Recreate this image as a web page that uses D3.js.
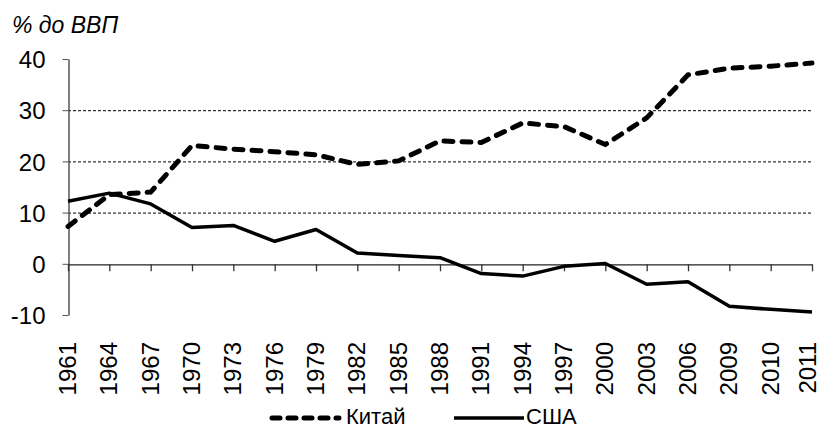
<!DOCTYPE html>
<html>
<head>
<meta charset="utf-8">
<script src="https://cdn.jsdelivr.net/npm/d3@7"></script>
<style>
  body { margin: 0; background: #fff; }
  svg { display: block; font-family: "Liberation Sans", Arial, sans-serif; }
</style>
</head>
<body>
<div id="chart"></div>
<script>
// data
var years = ["1961", "1964", "1967", "1970", "1973", "1976", "1979", "1982", "1985", "1988",
  "1991", "1994", "1997", "2000", "2003", "2006", "2009", "2010", "2011"];
var china = [7.3, 13.5, 14.0, 23.1, 22.4, 21.9, 21.3, 19.4, 20.1, 24.0,
  23.7, 27.5, 26.8, 23.3, 28.5, 36.9, 38.2, 38.6, 39.2];
var usa = [12.2, 13.8, 11.7, 7.1, 7.5, 4.4, 6.7, 2.1, 1.6, 1.2,
  -1.9, -2.4, -0.5, 0.05, -4.0, -3.5, -8.3, -8.9, -9.4];
var yTicks = [-10, 0, 10, 20, 30, 40];
var gridVals = [10, 20, 30];

var width = 822, height = 428;
var margin = { top: 59, right: 10, bottom: 113, left: 68 };

var svg = d3.select("#chart").append("svg")
  .attr("width", width)
  .attr("height", height);

var x = d3.scalePoint().domain(years).range([margin.left, width - margin.right]);
var y = d3.scaleLinear().domain([-10, 40]).range([height - margin.bottom, margin.top]);

// dashed grid lines
svg.append("g").selectAll("line")
  .data(gridVals)
  .join("line")
  .attr("x1", margin.left)
  .attr("x2", width - margin.right)
  .attr("y1", d => y(d) + 0.5)
  .attr("y2", d => y(d) + 0.5)
  .attr("stroke", "#000")
  .attr("stroke-width", 1)
  .attr("stroke-dasharray", "3,2");

// y axis
var yAxis = svg.append("g")
  .attr("transform", "translate(" + (margin.left + 0.5) + ",0)")
  .call(d3.axisLeft(y).tickValues(yTicks).tickSize(6).tickPadding(17)
    .tickSizeOuter(0).tickFormat(d => String(d)));
yAxis.select(".domain").attr("stroke", "#555").attr("stroke-width", 1.5);
yAxis.selectAll(".tick line").attr("stroke", "#555");
yAxis.selectAll("text")
  .attr("font-family", "Liberation Sans, Arial, sans-serif")
  .attr("font-size", 24)
  .attr("fill", "#000")
  .attr("dy", "0.36em");

// x axis along zero
var xAxis = svg.append("g")
  .attr("transform", "translate(0," + (y(0) + 0.5) + ")")
  .call(d3.axisBottom(x).tickSize(7).tickSizeOuter(0).tickFormat(""));
xAxis.select(".domain").attr("stroke", "#222").attr("stroke-width", 1.3);
xAxis.selectAll(".tick line").attr("stroke", "#333").attr("stroke-width", 1.3);

// rotated year labels (last one kept inside the frame)
svg.append("g").selectAll("text")
  .data(years)
  .join("text")
  .attr("transform", d => "translate(" + Math.min(x(d) + 8, width - 6) + "," + 342 + ") rotate(-90)")
  .attr("text-anchor", "end")
  .attr("font-size", 24)
  .attr("fill", "#000")
  .text(d => d);

// axis title
svg.append("text")
  .attr("x", 12)
  .attr("y", 33)
  .attr("font-size", 23)
  .attr("font-style", "italic")
  .attr("fill", "#000")
  .text("% до ВВП");

var line = d3.line()
  .x((d, i) => x(years[i]))
  .y(d => y(d));

svg.append("path")
  .datum(usa)
  .attr("fill", "none")
  .attr("stroke", "#000")
  .attr("stroke-width", 3.5)
  .attr("stroke-linejoin", "round")
  .attr("d", line);

svg.append("path")
  .datum(china)
  .attr("fill", "none")
  .attr("stroke", "#000")
  .attr("stroke-width", 5)
  .attr("stroke-linecap", "round")
  .attr("stroke-dasharray", "9,9")
  .attr("d", line);

// legend
var legend = svg.append("g");
legend.append("line")
  .attr("x1", 272).attr("x2", 339)
  .attr("y1", 418).attr("y2", 418)
  .attr("stroke", "#000")
  .attr("stroke-width", 5)
  .attr("stroke-linecap", "round")
  .attr("stroke-dasharray", "8,8");
legend.append("text")
  .attr("x", 346).attr("y", 424)
  .attr("font-size", 22)
  .attr("fill", "#000")
  .text("Китай");
legend.append("line")
  .attr("x1", 454).attr("x2", 524)
  .attr("y1", 418).attr("y2", 418)
  .attr("stroke", "#000")
  .attr("stroke-width", 3.5);
legend.append("text")
  .attr("x", 526).attr("y", 424)
  .attr("font-size", 22)
  .attr("fill", "#000")
  .text("США");
</script>
</body>
</html>
